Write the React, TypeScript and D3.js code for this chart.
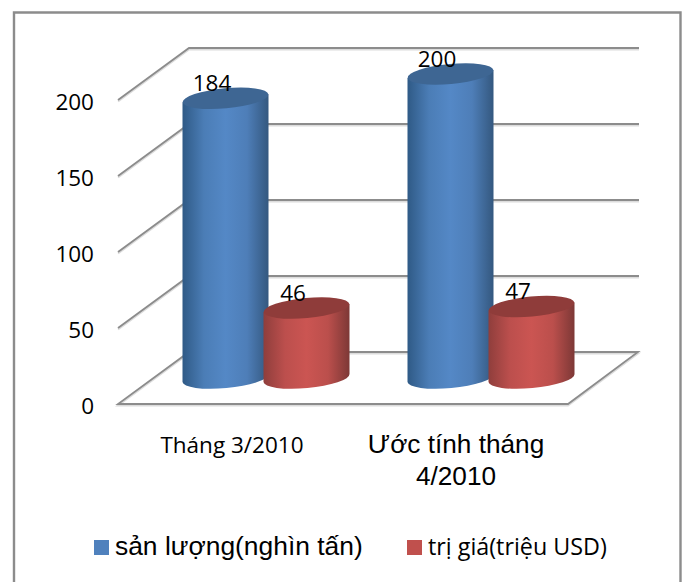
import React from "react";
import * as d3 from "d3";

const categories = ["Tháng 3/2010", "Ước tính tháng 4/2010"];
const seriesNames = ["sản lượng(nghìn tấn)", "trị giá(triệu USD)"];
const production = [184, 200];
const exportValue = [46, 47];
const yTicks = [0, 50, 100, 150, 200];

const gridColor = "#8c8c8c";
const shadowColor = "#dcdcdc";
const SANS = "'Liberation Sans', Arial, sans-serif";
const HUMAN = "'Open Sans', 'Noto Sans', sans-serif";

const depthX = 71;
const depthY = -52;
const y = d3.scaleLinear().domain([0, 200]).range([404, 100]);
const x0 = d3.scaleBand<string>().domain(categories).range([118 + depthX / 2, 568 + depthX / 2]);
const x1 = d3.scaleBand<string>().domain(seriesNames).range([-81, 81]);
const barBaseShift = -26;
const barW = 86;
const ry = 10;
const tilt = 4;

const palettes = [
  { id: "gradBlue", edgeL: "#2f5a86", mid: "#5488c6", edgeR: "#34587f", top: "#3e6693", swatch: "#4f81bd" },
  { id: "gradRed", edgeL: "#8f3e3c", mid: "#cb5552", edgeR: "#7d3836", top: "#8f3c3a", swatch: "#c0504d" },
];

function Cylinder({ cx, value, p }: { cx: number; value: number; p: (typeof palettes)[number] }) {
  const l = cx - barW / 2;
  const r = cx + barW / 2;
  const yb = y(0) + barBaseShift;
  const yt = y(value) + barBaseShift;
  const rot = (-Math.atan2(tilt, barW / 2) * 180) / Math.PI;
  const body = `M${l},${yt + tilt} L${l},${yb + tilt} A${barW / 2},${ry} ${rot} 0 0 ${r},${yb - tilt} L${r},${yt - tilt} Z`;
  return (
    <g>
      <path d={body} fill={`url(#${p.id})`} />
      <ellipse cx={cx} cy={yt} rx={barW / 2} ry={ry} fill={p.top} transform={`rotate(${rot} ${cx} ${yt})`} />
    </g>
  );
}

function GridLine({ d }: { d: string }) {
  return (
    <g fill="none">
      <path d={d} stroke={shadowColor} strokeWidth={2} transform="translate(0,1.5)" />
      <path d={d} stroke={gridColor} strokeWidth={1.8} />
    </g>
  );
}

export default function App() {
  const seriesValues = [production, exportValue];
  const fx = 118;
  const fr = 568;
  return (
    <svg width={683} height={582} style={{ position: "fixed", left: 0, top: 0, background: "#fff" }}>
      <defs>
        {palettes.map((p) => (
          <linearGradient key={p.id} id={p.id} x1="0" x2="1" y1="0" y2="0">
            <stop offset="0" stopColor={p.edgeL} />
            <stop offset="0.25" stopColor={d3.interpolateRgb(p.edgeL, p.mid)(0.75)} />
            <stop offset="0.5" stopColor={p.mid} />
            <stop offset="0.75" stopColor={d3.interpolateRgb(p.edgeR, p.mid)(0.8)} />
            <stop offset="1" stopColor={p.edgeR} />
          </linearGradient>
        ))}
      </defs>

      <path d="M14,582 L14,12.5 L680.5,12.5 L680.5,582" fill="#fff" stroke={gridColor} strokeWidth={2.4} />

      {yTicks.map((t) => (
        <GridLine
          key={t}
          d={
            t === 0
              ? `M${fx},${y(0)} L${fr},${y(0)} L${fr + depthX - 1},${y(0) + depthY} L${fx + depthX},${y(0) + depthY} Z`
              : `M${fx},${y(t)} L${fx + depthX},${y(t) + depthY} L${fr + depthX},${y(t) + depthY}`
          }
        />
      ))}

      {categories.map((c, i) =>
        seriesNames.map((s, j) => (
          <Cylinder
            key={c + s}
            cx={(x0(c) as number) + x0.bandwidth() / 2 + (x1(s) as number) + x1.bandwidth() / 2}
            value={seriesValues[j][i]}
            p={palettes[j]}
          />
        ))
      )}

      {categories.map((c, i) =>
        seriesNames.map((s, j) => (
          <text
            key={c + s}
            x={(x0(c) as number) + x0.bandwidth() / 2 + (x1(s) as number) + x1.bandwidth() / 2 - 13.5}
            y={y(seriesValues[j][i]) + barBaseShift - 7.5}
            textAnchor="middle"
            fontFamily={HUMAN}
            fontSize={22.5}
            fill="#000"
          >
            {seriesValues[j][i]}
          </text>
        ))
      )}

      {yTicks.map((t) => (
        <text key={t} x={94} y={y(t) + 9.5} textAnchor="end" fontFamily={HUMAN} fontSize={22.5} fill="#000">
          {t}
        </text>
      ))}

      <text x={232} y={453} textAnchor="middle" fontFamily={HUMAN} fontSize={22.5} fill="#000">
        {categories[0]}
      </text>
      <text textAnchor="middle" fontFamily={SANS} fontSize={26.2} fill="#000">
        <tspan x={456} y={453}>Ước tính tháng</tspan>
        <tspan x={456} y={485}>4/2010</tspan>
      </text>

      <rect x={94} y={540} width={15} height={15} fill={palettes[0].swatch} />
      <text x={115} y={555} fontFamily={SANS} fontSize={26.4} fill="#000">
        {seriesNames[0]}
      </text>
      <rect x={407} y={540} width={15} height={15} fill={palettes[1].swatch} />
      <text x={428} y={555} fontFamily={HUMAN} fontSize={23.3} fill="#000">
        {seriesNames[1]}
      </text>
    </svg>
  );
}
